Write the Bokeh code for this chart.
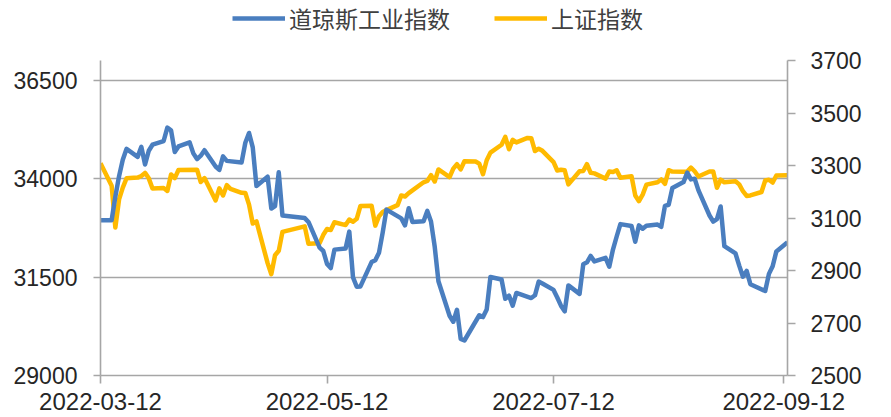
import pandas as pd
from bokeh.plotting import figure
from bokeh.models import (Range1d, LinearAxis, FixedTicker, Legend, LegendItem,
                          DatetimeTickFormatter, ColumnDataSource)
from bokeh.embed import file_html
from bokeh.resources import INLINE

# ---- data ----
dow_dates = ["03-12", "03-15", "03-16", "03-17", "03-18", "03-19", "03-22", "03-23", "03-24", "03-25",
             "03-26", "03-29", "03-30", "03-31", "04-01", "04-02", "04-05", "04-06", "04-07", "04-08",
             "04-09", "04-12", "04-13", "04-14", "04-15", "04-19", "04-20", "04-21", "04-22", "04-23",
             "04-26", "04-27", "04-28", "04-29", "04-30", "05-06", "05-07", "05-10", "05-11", "05-12",
             "05-13", "05-14", "05-17", "05-18", "05-19", "05-20", "05-21", "05-24", "05-25", "05-26",
             "05-27", "05-28", "06-01", "06-02", "06-03", "06-04", "06-07", "06-08", "06-09", "06-10",
             "06-11", "06-14", "06-15", "06-16", "06-17", "06-18", "06-22", "06-23", "06-24", "06-25",
             "06-28", "06-29", "06-30", "07-01", "07-02", "07-06", "07-07", "07-08", "07-09", "07-12",
             "07-13", "07-14", "07-15", "07-16", "07-19", "07-20", "07-21", "07-22", "07-23", "07-26",
             "07-27", "07-28", "07-29", "07-30", "08-02", "08-03", "08-04", "08-05", "08-06", "08-09",
             "08-10", "08-11", "08-12", "08-13", "08-16", "08-17", "08-18", "08-19", "08-20", "08-23",
             "08-24", "08-25", "08-26", "08-27", "08-30", "08-31", "09-01", "09-02", "09-03", "09-07",
             "09-08", "09-09", "09-10", "09-13"]
dow_values = [32944, 32945, 33544, 34063, 34480, 34754, 34552, 34807, 34358, 34707,
              34861, 34955, 35294, 35228, 34678, 34818, 34921, 34641, 34496, 34583,
              34721, 34308, 34220, 34564, 34451, 34412, 34911, 35160, 34793, 33811,
              34049, 33240, 33302, 34160, 33061, 32998, 32899, 32246, 32161, 31834,
              31730, 32197, 32223, 32655, 31490, 31253, 31262, 31880, 31929, 32120,
              32637, 33213, 32990, 32813, 33248, 32900, 32916, 33180, 32910, 32272,
              31393, 30517, 30365, 30669, 29927, 29889, 30530, 30484, 30677, 31500,
              31439, 30947, 31029, 30775, 31097, 30968, 31037, 31385, 31338, 31174,
              30982, 30773, 30630, 31288, 31073, 31827, 31875, 32036, 31899, 31990,
              31762, 32198, 32530, 32845, 32798, 32397, 32813, 32727, 32803, 32833,
              32775, 33310, 33337, 33761, 33913, 34152, 33981, 33999, 33707, 33064,
              32910, 32970, 33292, 32283, 32099, 31791, 31510, 31656, 31318, 31146,
              31581, 31775, 32152, 32381]

sse_dates = ["03-12", "03-15", "03-16", "03-17", "03-18", "03-19", "03-22", "03-23", "03-24", "03-25",
             "03-26", "03-29", "03-30", "03-31", "04-01", "04-02", "04-07", "04-08", "04-09", "04-12",
             "04-13", "04-14", "04-15", "04-16", "04-19", "04-20", "04-21", "04-22", "04-23", "04-26",
             "04-27", "04-28", "04-29", "04-30", "05-06", "05-07", "05-10", "05-11", "05-12", "05-13",
             "05-14", "05-17", "05-18", "05-19", "05-20", "05-21", "05-24", "05-25", "05-26", "05-27",
             "05-28", "05-31", "06-01", "06-02", "06-03", "06-07", "06-08", "06-09", "06-10", "06-11",
             "06-14", "06-15", "06-16", "06-17", "06-18", "06-21", "06-22", "06-23", "06-24", "06-25",
             "06-28", "06-29", "06-30", "07-01", "07-02", "07-05", "07-06", "07-07", "07-08", "07-09",
             "07-12", "07-13", "07-14", "07-15", "07-16", "07-19", "07-20", "07-21", "07-22", "07-23",
             "07-26", "07-27", "07-28", "07-29", "07-30", "08-02", "08-03", "08-04", "08-05", "08-06",
             "08-09", "08-10", "08-11", "08-12", "08-13", "08-16", "08-17", "08-18", "08-19", "08-20",
             "08-23", "08-24", "08-25", "08-26", "08-27", "08-30", "08-31", "09-01", "09-02", "09-03",
             "09-06", "09-07", "09-08", "09-09", "09-10", "09-13"]
sse_values = [3309, 3223, 3064, 3171, 3216, 3251, 3254, 3260, 3272, 3251,
              3212, 3214, 3203, 3266, 3252, 3283, 3284, 3237, 3252, 3167,
              3213, 3186, 3225, 3211, 3196, 3195, 3151, 3079, 3087, 2928,
              2886, 2958, 2975, 3047, 3068, 3002, 3004, 3036, 3058, 3054,
              3084, 3073, 3094, 3086, 3097, 3146, 3147, 3071, 3107, 3123,
              3130, 3149, 3186, 3182, 3195, 3236, 3241, 3263, 3239, 3285,
              3256, 3288, 3305, 3285, 3316, 3315, 3307, 3267, 3320, 3349,
              3379, 3409, 3362, 3398, 3388, 3405, 3404, 3355, 3364, 3356,
              3313, 3281, 3284, 3282, 3228, 3278, 3279, 3305, 3272, 3270,
              3250, 3277, 3275, 3282, 3253, 3259, 3186, 3164, 3189, 3227,
              3236, 3247, 3230, 3282, 3277, 3276, 3277, 3292, 3278, 3258,
              3277, 3277, 3215, 3246, 3236, 3240, 3228, 3202, 3184, 3186,
              3199, 3243, 3246, 3235, 3262, 3263]

year = "2022"
x_start, x_end = "2022-03-12", "2022-09-13"
x_tick_labels = ["2022-03-12", "2022-05-12", "2022-07-12", "2022-09-12"]
left_ticks = [29000, 31500, 34000, 36500]
left_min, left_max = 29000, 37000
right_ticks = [2500, 2700, 2900, 3100, 3300, 3500, 3700]
right_min, right_max = 2500, 3700
series_names = ["道琼斯工业指数", "上证指数"]

BLUE = "#4A7EBF"
GOLD = "#FFBA00"
GRID = "#A6A6A6"
TXT = "#262626"

W, H = 891, 417
FL, FR, FT, FB = 100, 787, 60, 375   # plot box edges in page pixels
# the drawing area runs up to the top of the canvas so the legend can sit above the plot box;
# ranges are extended so that left_max / right_max fall exactly on the box top (FT)
ext = FB / (FB - FT)
left_top = left_min + (left_max - left_min) * ext
right_top = right_min + (right_max - right_min) * ext

dow_src = ColumnDataSource(dict(x=pd.to_datetime([f"{year}-{d}" for d in dow_dates]), y=dow_values))
sse_src = ColumnDataSource(dict(x=pd.to_datetime([f"{year}-{d}" for d in sse_dates]), y=sse_values))

p = figure(width=W, height=H, x_axis_type="datetime", output_backend="svg",
           toolbar_location=None,
           x_range=Range1d(pd.Timestamp(x_start), pd.Timestamp(x_end)),
           y_range=Range1d(left_min, left_top),
           min_border_left=FL, min_border_right=W - FR, min_border_top=0, min_border_bottom=H - FB)
p.extra_y_ranges = {"sse": Range1d(right_min, right_top)}
p.outline_line_color = None
p.background_fill_color = "white"
p.border_fill_color = "white"

r_dow = p.line("x", "y", source=dow_src, line_color=BLUE, line_width=4.5, line_join="round")
r_sse = p.line("x", "y", source=sse_src, line_color=GOLD, line_width=4.5, line_join="round",
               y_range_name="sse")
p.renderers = [r_sse, r_dow]

p.xgrid.visible = False
left_ticker = FixedTicker(ticks=left_ticks, minor_ticks=[])
p.ygrid.ticker = left_ticker
p.ygrid.grid_line_color = GRID
p.ygrid.grid_line_width = 1.6

label_font = "Liberation Sans"

def style_axis(ax, tick_out, standoff, size="23px"):
    ax.axis_line_color = GRID
    ax.axis_line_width = 1.6
    ax.major_tick_line_color = GRID
    ax.major_tick_line_width = 1.6
    ax.major_tick_out = tick_out
    ax.major_tick_in = 0
    ax.minor_tick_line_color = None
    ax.major_label_text_font = label_font
    ax.major_label_text_font_size = size
    ax.major_label_text_color = TXT
    ax.major_label_standoff = standoff

p.yaxis.ticker = left_ticker
p.yaxis.bounds = (left_min, left_max)
style_axis(p.yaxis[0], 7, 16)

raxis = LinearAxis(y_range_name="sse", ticker=FixedTicker(ticks=right_ticks, minor_ticks=[]),
                   bounds=(right_min, right_max))
style_axis(raxis, 8, 15)
p.add_layout(raxis, "right")

x_ticks = [pd.Timestamp(t).value / 1e6 for t in x_tick_labels]
p.xaxis.ticker = FixedTicker(ticks=x_ticks, minor_ticks=[])
fmt = "%Y-%m-%d"
p.xaxis.formatter = DatetimeTickFormatter(days=fmt, months=fmt, years=fmt, hours=fmt,
                                          minutes=fmt, seconds=fmt, milliseconds=fmt,
                                          microseconds=fmt, minsec=fmt, hourmin=fmt)
style_axis(p.xaxis[0], 8, 9, size="24px")

# legend above the plot box (location = its bottom-left corner, px from the area's bottom-left)
leg_h = 24
leg_top = 11
legend = Legend(items=[LegendItem(label=series_names[0], renderers=[r_dow]),
                       LegendItem(label=series_names[1], renderers=[r_sse])],
                orientation="horizontal",
                location=(232 - FL, FB - leg_top - leg_h),
                glyph_width=53, glyph_height=leg_h, label_height=leg_h, label_standoff=4,
                spacing=44, padding=0, margin=0,
                label_text_font="Noto Sans CJK SC", label_text_font_size="23px",
                label_text_color="#404040", border_line_color=None,
                background_fill_alpha=0)
p.add_layout(legend, "center")

open("out.html", "w").write(file_html(p, INLINE))
